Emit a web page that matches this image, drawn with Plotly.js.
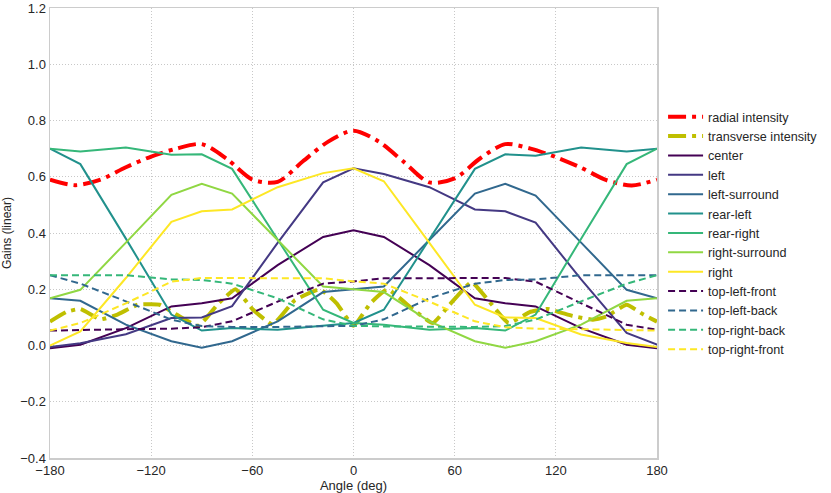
<!DOCTYPE html>
<html>
<head>
<meta charset="utf-8">
<script src="https://cdn.plot.ly/plotly-3.0.1.min.js"></script>
<style>
  html, body { margin: 0; padding: 0; background: #fff; }
  #chart { width: 831px; height: 493px; }
</style>
</head>
<body>
<div id="chart"></div>
<script>
// angulos de muestreo de las ganancias (deg)
const angulos = [-180, -162, -135, -108, -90, -72, -45, -18, 0, 18, 45, 72, 90, 108, 135, 162, 180];

// ganancias por altavoz
const center        = [-0.01, 0.003, 0.062, 0.139, 0.15, 0.168, 0.286, 0.386, 0.41, 0.386, 0.286, 0.168, 0.15, 0.139, 0.062, 0.003, -0.01];
const left          = [-0.005, 0.008, 0.04, 0.098, 0.10, 0.14, 0.365, 0.58, 0.63, 0.61, 0.563, 0.484, 0.477, 0.437, 0.235, 0.045, 0.003];
const leftSurround  = [0.168, 0.159, 0.074, 0.015, -0.008, 0.015, 0.086, 0.19, 0.2, 0.21, 0.375, 0.54, 0.575, 0.533, 0.366, 0.198, 0.168];
const rearLeft      = [0.70, 0.645, 0.38, 0.11, 0.053, 0.062, 0.056, 0.072, 0.08, 0.127, 0.377, 0.628, 0.68, 0.675, 0.704, 0.69, 0.70];
const rearRight     = [0.70, 0.69, 0.704, 0.678, 0.68, 0.628, 0.377, 0.127, 0.08, 0.074, 0.056, 0.062, 0.053, 0.11, 0.38, 0.645, 0.70];
const rightSurround = [0.168, 0.198, 0.366, 0.536, 0.575, 0.54, 0.375, 0.21, 0.2, 0.19, 0.086, 0.015, -0.008, 0.015, 0.074, 0.159, 0.168];
const right         = [0.0, 0.05, 0.24, 0.44, 0.477, 0.484, 0.563, 0.613, 0.63, 0.584, 0.365, 0.145, 0.10, 0.098, 0.039, 0.009, -0.005];
const topLeftFront  = [0.053, 0.056, 0.058, 0.06, 0.065, 0.086, 0.156, 0.22, 0.228, 0.239, 0.24, 0.24, 0.24, 0.227, 0.15, 0.074, 0.056];
const topLeftBack   = [0.25, 0.22, 0.157, 0.092, 0.069, 0.066, 0.066, 0.068, 0.07, 0.093, 0.168, 0.22, 0.233, 0.235, 0.25, 0.25, 0.25];
const topRightBack  = [0.25, 0.25, 0.25, 0.235, 0.233, 0.22, 0.168, 0.093, 0.07, 0.068, 0.066, 0.066, 0.069, 0.092, 0.157, 0.22, 0.25];
const topRightFront = [0.053, 0.08, 0.15, 0.227, 0.24, 0.24, 0.24, 0.239, 0.228, 0.22, 0.156, 0.086, 0.065, 0.06, 0.058, 0.056, 0.053];

// intensidades: curvas mas densas
const angulosRadial = [-180, -165, -150, -135, -120, -105, -90, -75, -60, -45, -30, -15, 0, 15, 30, 45, 60, 75, 90, 105, 120, 135, 150, 165, 180];
const radial        = [0.59, 0.57, 0.59, 0.634, 0.672, 0.70, 0.716, 0.663, 0.59, 0.582, 0.655, 0.725, 0.764, 0.725, 0.652, 0.58, 0.594, 0.665, 0.716, 0.70, 0.67, 0.632, 0.588, 0.569, 0.59];

const angulosTransv = [-180, -170, -162, -150, -140, -128, -115, -105, -92, -80, -70, -60, -48, -35, -20, -10, 0, 10, 20, 35, 47, 57, 70, 80, 92, 105, 115, 130, 142, 150, 162, 172, 180];
const transversal   = [0.085, 0.12, 0.13, 0.093, 0.11, 0.145, 0.145, 0.11, 0.07, 0.15, 0.2, 0.13, 0.075, 0.16, 0.2, 0.15, 0.07, 0.15, 0.2, 0.13, 0.08, 0.145, 0.225, 0.16, 0.08, 0.12, 0.13, 0.105, 0.092, 0.103, 0.145, 0.11, 0.085];

const ticksX = [-180, -120, -60, 0, 60, 120, 180];
const ticksY = [-0.4, -0.2, 0.0, 0.2, 0.4, 0.6, 0.8, 1.0, 1.2];

const altavoces = [
  { nombre: 'center',         y: center,        color: '#440154', dash: 'solid' },
  { nombre: 'left',           y: left,          color: '#443983', dash: 'solid' },
  { nombre: 'left-surround',  y: leftSurround,  color: '#31688e', dash: 'solid' },
  { nombre: 'rear-left',      y: rearLeft,      color: '#21918c', dash: 'solid' },
  { nombre: 'rear-right',     y: rearRight,     color: '#35b779', dash: 'solid' },
  { nombre: 'right-surround', y: rightSurround, color: '#90d743', dash: 'solid' },
  { nombre: 'right',          y: right,         color: '#fde725', dash: 'solid' },
  { nombre: 'top-left-front', y: topLeftFront,  color: '#440154', dash: '7px,4px' },
  { nombre: 'top-left-back',  y: topLeftBack,   color: '#31688e', dash: '7px,4px' },
  { nombre: 'top-right-back', y: topRightBack,  color: '#35b779', dash: '7px,4px' },
  { nombre: 'top-right-front', y: topRightFront, color: '#fde725', dash: '7px,4px' },
];

const trazas = [
  {
    type: 'scatter', mode: 'lines', name: 'radial intensity',
    x: angulosRadial, y: radial,
    line: { color: '#ff0000', width: 4, dash: '18px,6px,4px,6px', shape: 'spline', smoothing: 0.8 },
  },
  {
    type: 'scatter', mode: 'lines', name: 'transverse intensity',
    x: angulosTransv, y: transversal,
    line: { color: '#bfbf00', width: 4, dash: '18px,6px,4px,6px', shape: 'spline', smoothing: 0.4 },
  },
  ...altavoces.map((a) => ({
    type: 'scatter', mode: 'lines', name: a.nombre,
    x: angulos, y: a.y,
    line: { color: a.color, width: 2, dash: a.dash },
  })),
];

const ejeComun = {
  showline: true, mirror: true, linecolor: '#cccccc', linewidth: 1.5,
  showgrid: true, gridcolor: '#c8c8c8', griddash: '1px,2px', gridwidth: 1,
  zeroline: false, ticks: '', tickfont: { size: 13, color: '#262626' },
  tickmode: 'array', ticklabeloverflow: 'allow',
};

const layout = {
  width: 831, height: 493,
  margin: { t: 8, r: 174, b: 35, l: 50 },
  paper_bgcolor: '#ffffff', plot_bgcolor: '#ffffff',
  font: { family: '"Liberation Sans", Arial, sans-serif', size: 13, color: '#262626' },
  xaxis: {
    ...ejeComun, range: [-180, 180], tickvals: ticksX,
    ticktext: ticksX.map((v) => (v < 0 ? '\u2212' + Math.abs(v) : String(v))),
    title: { text: 'Angle (deg)', font: { size: 13 }, standoff: 2 },
  },
  yaxis: {
    ...ejeComun, range: [-0.4, 1.2001], tickvals: ticksY,
    ticktext: ticksY.map((v) => (v < 0 ? '\u2212' + Math.abs(v).toFixed(1) : v.toFixed(1))),
    title: { text: 'Gains (linear)', font: { size: 12 }, standoff: 8 },
  },
  showlegend: true,
  legend: {
    x: 1.01, xanchor: 'left', y: 0.5, yanchor: 'middle',
    font: { size: 12.6, color: '#262626' }, bgcolor: 'rgba(0,0,0,0)',
    tracegroupgap: 0, itemwidth: 35,
  },
};

Plotly.newPlot('chart', trazas, layout, { displayModeBar: false, staticPlot: true });
</script>
</body>
</html>
